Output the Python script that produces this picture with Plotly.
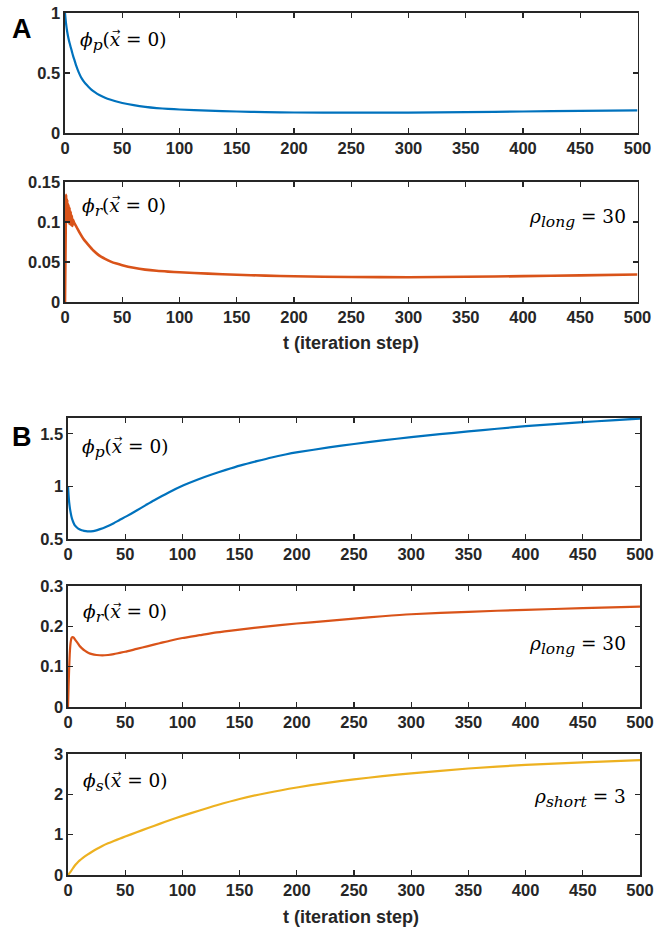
import plotly.graph_objects as go

# ---------------- data ----------------
t_A_p = [0, 0.5, 1, 2, 3, 4, 5, 6, 7, 8, 10, 12, 14, 16, 18, 20, 23, 26, 30,
         35, 40, 45, 50, 60, 70, 80, 90, 100, 125, 150, 175, 200, 250, 300,
         350, 400, 450, 500]
phi_p_A = [1.0, 0.95, 0.905, 0.84, 0.79, 0.75, 0.715, 0.68, 0.645, 0.615,
           0.555, 0.505, 0.465, 0.435, 0.41, 0.39, 0.362, 0.34, 0.316, 0.294,
           0.277, 0.262, 0.25, 0.232, 0.218, 0.208, 0.201, 0.196, 0.186, 0.179,
           0.174, 0.171, 0.169, 0.170, 0.174, 0.179, 0.184, 0.189]

t_A_r = [0, 0.5, 1, 1.5, 2, 2.5, 3, 3.5, 4, 4.5, 5, 5.5, 6, 6.5, 7, 8, 10, 13,
         16, 20, 25, 30, 35, 40, 45, 50, 60, 70, 80, 90, 100, 125, 150, 175,
         200, 250, 300, 350, 400, 450, 500]
phi_r_A = [0.0, 0.07, 0.134, 0.112, 0.128, 0.100, 0.122, 0.098, 0.118, 0.097,
           0.113, 0.096, 0.108, 0.095, 0.103, 0.099, 0.094, 0.086, 0.079, 0.072,
           0.064, 0.058, 0.054, 0.0505, 0.048, 0.046, 0.0428, 0.0405, 0.039,
           0.038, 0.0372, 0.0355, 0.034, 0.033, 0.0322, 0.0312, 0.031, 0.0315,
           0.0323, 0.0333, 0.0343]

t_B_p = [0, 0.5, 1, 1.5, 2, 3, 4, 5, 6, 8, 10, 12, 14, 17, 20, 24, 28, 33, 40,
         45, 51, 60, 68, 75, 88, 101, 113, 125, 138, 151, 165, 178, 190, 201,
         228, 250, 275, 300, 325, 350, 375, 400, 425, 450, 475, 500]
phi_p_B = [1.0, 0.92, 0.85, 0.806, 0.77, 0.715, 0.677, 0.65, 0.63, 0.607, 0.592,
           0.583, 0.577, 0.572, 0.573, 0.58, 0.594, 0.615, 0.65, 0.68, 0.715,
           0.771, 0.822, 0.866, 0.942, 1.01, 1.063, 1.11, 1.157, 1.2, 1.24,
           1.275, 1.303, 1.325, 1.37, 1.403, 1.437, 1.468, 1.496, 1.522, 1.548,
           1.572, 1.592, 1.61, 1.628, 1.645]

t_B_r = [0, 0.5, 1, 1.5, 2, 2.5, 3, 3.5, 4, 5, 6, 7, 8, 10, 12, 15, 18, 21, 25,
         30, 35, 40, 45, 50, 60, 70, 80, 90, 100, 115, 130, 150, 175, 200, 225,
         250, 275, 300, 350, 400, 450, 500]
phi_r_B = [0.0, 0.05, 0.095, 0.13, 0.152, 0.164, 0.17, 0.173, 0.1735, 0.172,
           0.168, 0.164, 0.16, 0.152, 0.146, 0.139, 0.134, 0.131, 0.129, 0.128,
           0.129, 0.131, 0.134, 0.137, 0.144, 0.151, 0.158, 0.165, 0.171, 0.178,
           0.185, 0.192, 0.200, 0.207, 0.213, 0.219, 0.225, 0.230, 0.236, 0.241,
           0.245, 0.249]

t_B_s = [0, 2, 4, 6, 8, 10, 13, 17, 21, 25, 30, 35, 40, 45, 50, 60, 70, 80, 90,
         100, 115, 130, 150, 175, 200, 225, 250, 275, 300, 350, 400, 450, 500]
phi_s_B = [0.0, 0.07, 0.155, 0.235, 0.30, 0.355, 0.425, 0.505, 0.578, 0.645,
           0.72, 0.785, 0.843, 0.898, 0.953, 1.06, 1.165, 1.268, 1.368, 1.465,
           1.60, 1.73, 1.885, 2.04, 2.17, 2.28, 2.37, 2.45, 2.52, 2.64, 2.73,
           2.79, 2.85]

x_ticks = [0, 50, 100, 150, 200, 250, 300, 350, 400, 450, 500]
x_title = "t (iteration step)"

BLUE = "#0072BD"
ORANGE = "#D95319"
YELLOW = "#EDB120"
AX = "#262626"

W, H = 670, 929


def px_x(p):
    return p / W


def px_y(p):
    return 1 - p / H


fig = go.Figure()

series = [
    (t_A_p, phi_p_A, BLUE, "x", "y", 2.2),
    (t_A_r, phi_r_A, ORANGE, "x2", "y2", 2.6),
    (t_B_p, phi_p_B, BLUE, "x3", "y3", 2.2),
    (t_B_r, phi_r_B, ORANGE, "x4", "y4", 2.2),
    (t_B_s, phi_s_B, YELLOW, "x5", "y5", 2.2),
]
for xs, ys, col, xa, ya, lw in series:
    fig.add_trace(go.Scatter(x=xs, y=ys, mode="lines", xaxis=xa, yaxis=ya,
                             line=dict(color=col, width=lw, shape="spline",
                                       smoothing=0.6),
                             showlegend=False, hoverinfo="skip"))

tickfont = dict(family="Liberation Sans", size=16.5, color=AX, weight="bold")
common = dict(showline=True, linecolor=AX, linewidth=1.6, mirror="ticks",
              ticks="inside", ticklen=5, tickwidth=1.4, tickcolor=AX,
              showgrid=False, zeroline=False, tickfont=tickfont,
              automargin=False, fixedrange=True, ticklabeloverflow="allow")

# (x pixel left, right), (y pixel top, bottom), y range, dtick
panels = [
    ((65, 637.5), (13, 133), [0, 1], 0.5),
    ((65, 637.5), (182, 302), [0, 0.15], 0.05),
    ((68, 640), (418, 539), [0.5, 1.65], 0.5),
    ((68, 640), (586, 707), [0, 0.3], 0.1),
    ((68, 640), (754, 875), [0, 3], 1),
]

layout = dict(width=W, height=H,
              margin=dict(l=0, r=0, t=0, b=0, pad=0, autoexpand=False),
              paper_bgcolor="white", plot_bgcolor="white",
              font=dict(family="Liberation Sans", color=AX))
for i, ((xl, xr), (yt, yb), yr, dt) in enumerate(panels):
    n = "" if i == 0 else str(i + 1)
    layout["xaxis" + n] = dict(common, domain=[px_x(xl), px_x(xr)],
                               range=[0, 500], tickvals=x_ticks,
                               anchor="y" + n)
    layout["yaxis" + n] = dict(common, domain=[px_y(yb), px_y(yt)], range=yr,
                               dtick=dt, tick0=0, anchor="x" + n)

fig.update_layout(**layout)

mathfont = dict(family="DejaVu Serif", size=18.5, color="black")


def sub(s):
    return '<sub><span style="font-size:15.5px"><i>' + s + '</i></span></sub>'


# text, left/right anchor pixel, centre y pixel, anchor, offset of the x glyph
labels = [
    ("<i>ϕ</i>" + sub("p") + "(<i>x</i> = 0)", 78, 41, "left", 38),
    ("<i>ϕ</i>" + sub("r") + "(<i>x</i> = 0)", 80, 207, "left", 36),
    ("<i>ρ</i>" + sub("long") + " = 30", 628, 219, "right", None),
    ("<i>ϕ</i>" + sub("p") + "(<i>x</i> = 0)", 80, 448, "left", 38),
    ("<i>ϕ</i>" + sub("r") + "(<i>x</i> = 0)", 81, 613, "left", 36),
    ("<i>ρ</i>" + sub("long") + " = 30", 628, 645, "right", None),
    ("<i>ϕ</i>" + sub("s") + "(<i>x</i> = 0)", 81, 782, "left", 36),
    ("<i>ρ</i>" + sub("short") + " = 3", 628, 798, "right", None),
]
for txt, x, y, anc, xo in labels:
    fig.add_annotation(text=txt, x=px_x(x), y=px_y(y), xref="paper", yref="paper",
                       xanchor=anc, yanchor="middle", showarrow=False, font=mathfont)
    if xo is not None:
        # vector arrow over the x
        fig.add_annotation(text="→", x=px_x(x + xo), y=px_y(y - 9),
                           xref="paper", yref="paper", xanchor="center",
                           yanchor="middle", showarrow=False,
                           font=dict(family="DejaVu Sans", size=10, color="black"))

for y in (343, 917):
    fig.add_annotation(text="<b>" + x_title + "</b>", x=px_x(351), y=px_y(y),
                       xref="paper", yref="paper", xanchor="center",
                       yanchor="middle", showarrow=False,
                       font=dict(family="Liberation Sans", size=18, color=AX))

for txt, y in [("A", 29), ("B", 437)]:
    fig.add_annotation(text="<b>" + txt + "</b>", x=px_x(10), y=px_y(y),
                       xref="paper", yref="paper", xanchor="left", yanchor="middle",
                       showarrow=False,
                       font=dict(family="Liberation Sans", size=27, color="black"))

# remove the browser's default 8px page margin so the figure fills the window
fig.write_html("out.html",
               config={"displayModeBar": False, "staticPlot": True},
               post_script="document.body.style.margin='0px';"
                           "document.body.style.overflow='hidden';")
